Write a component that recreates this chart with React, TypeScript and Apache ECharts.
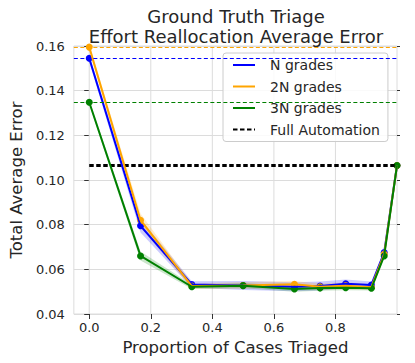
import React, { useEffect, useRef } from "react";
import * as echarts from "echarts";

const proportions = [0, 0.1667, 0.3333, 0.5, 0.6667, 0.75, 0.8333, 0.9167, 0.9583, 1.0];
const nGrades = [0.1545, 0.0795, 0.0532, 0.0528, 0.0522, 0.0525, 0.0535, 0.053, 0.0675, 0.1065];
const twoNGrades = [0.1595, 0.082, 0.0525, 0.0528, 0.0533, 0.0522, 0.0527, 0.052, 0.0668, 0.1065];
const threeNGrades = [0.1348, 0.066, 0.0522, 0.0527, 0.0512, 0.0516, 0.0518, 0.0515, 0.066, 0.1065];
const nErr = [0.0015, 0.003, 0.0015, 0.002, 0.002, 0.002, 0.002, 0.0015, 0.001, 0];
const twoNErr = [0.0012, 0.003, 0.0012, 0.0015, 0.0015, 0.0015, 0.0015, 0.0012, 0.001, 0];
const threeNErr = [0.001, 0.002, 0.001, 0.0012, 0.0012, 0.0012, 0.0012, 0.001, 0.001, 0];
const fullAutomationX = [0, 1.0];
const fullAutomation = 0.1065;
const xTicks = [0, 0.2, 0.4, 0.6, 0.8];
const seriesNames = ["N grades", "2N grades", "3N grades", "Full Automation"];

const FONT = "DejaVu Sans";
const TEXT = "#262626";
const GRID = "#dcdcdc";

function bandSeries(values: number[], errs: number[], color: string) {
  return {
    type: "custom",
    name: "band-" + color,
    silent: true,
    data: proportions.map((x, i) => [x, values[i] - errs[i], values[i] + errs[i]]),
    encode: { x: 0, y: [1, 2] },
    renderItem: (params: any, api: any) => {
      if (params.dataIndex !== 0) return { type: "group", children: [] };
      const upper = proportions.map((x, i) => api.coord([x, values[i] + errs[i]]));
      const lower = proportions.map((x, i) => api.coord([x, values[i] - errs[i]])).reverse();
      return {
        type: "polygon",
        shape: { points: upper.concat(lower) },
        style: { fill: color, opacity: 0.2 },
      };
    },
  };
}

function gridSeries() {
  return {
    type: "custom",
    name: "vgrid",
    silent: true,
    data: xTicks.map((x) => [x, 0.04, 0.16]),
    encode: { x: 0, y: [1, 2] },
    renderItem: (params: any, api: any) => {
      const p0 = api.coord([api.value(0), api.value(1)]);
      const p1 = api.coord([api.value(0), api.value(2)]);
      return {
        type: "line",
        shape: { x1: p0[0], y1: p0[1], x2: p1[0], y2: p1[1] },
        style: { stroke: GRID, lineWidth: 1 },
      };
    },
  };
}

function lineSeries(name: string, values: number[], color: string) {
  return [
    {
      type: "line",
      name,
      data: proportions.map((x, i) => [x, values[i]]),
      symbol: "none",
      lineStyle: { color, width: 2 },
      itemStyle: { color },
      markLine: {
        silent: true,
        symbol: "none",
        precision: 5,
        label: { show: false },
        lineStyle: { color, type: [4, 2.5], width: 1.2 },
        data: [{ yAxis: values[0] }],
      },
    },
    {
      type: "scatter",
      name: name + " points",
      data: proportions.map((x, i) => [x, values[i]]),
      symbol: "circle",
      symbolSize: 7,
      itemStyle: { color, opacity: 1 },
    },
  ];
}

export default function App() {
  const ref = useRef<HTMLDivElement>(null);
  useEffect(() => {
    if (!ref.current) return;
    const chart = echarts.init(ref.current, undefined, { renderer: "svg" });
    chart.setOption({
      animation: false,
      textStyle: { fontFamily: FONT },
      title: {
        text: "Ground Truth Triage\nEffort Reallocation Average Error",
        left: 231,
        textAlign: "center",
        top: 1,
        textStyle: { fontFamily: FONT, fontSize: 18, fontWeight: "normal", color: TEXT, lineHeight: 20 },
      },
      legend: {
        data: seriesNames,
        orient: "vertical",
        left: 223,
        top: 53,
        itemWidth: 22,
        itemHeight: 14,
        itemGap: 7.5,
        padding: [5, 8, 5, 9],
        borderColor: "#cccccc",
        borderWidth: 1,
        borderRadius: 3,
        backgroundColor: "rgba(255,255,255,0.85)",
        itemStyle: { opacity: 0 },
        textStyle: { fontFamily: FONT, fontSize: 14, color: TEXT, padding: [0, 0, 0, 10] },
      },
      grid: { left: 66, right: 18, top: 46, bottom: 49, show: true, borderColor: GRID, borderWidth: 1 },
      xAxis: {
        type: "value",
        min: -0.05,
        max: 1.0,
        name: "Proportion of Cases Triaged",
        nameLocation: "middle",
        nameGap: 21,
        nameTextStyle: { fontFamily: FONT, fontSize: 16.5, color: TEXT },
        axisLine: { show: false },
        splitLine: { show: false },
        axisTick: { show: true, customValues: xTicks, length: 5, lineStyle: { color: "#333" } },
        axisLabel: {
          customValues: xTicks,
          formatter: (v: number) => v.toFixed(1),
          fontFamily: FONT,
          fontSize: 13,
          color: TEXT,
          margin: 7,
        },
      },
      yAxis: [
        {
          type: "value",
          min: 0.04,
          max: 0.16,
          interval: 0.02,
          name: "Total Average Error",
          nameLocation: "middle",
          nameGap: 40,
          nameTextStyle: { fontFamily: FONT, fontSize: 16.5, color: TEXT },
          axisLine: { show: false },
          axisTick: { show: true, length: 5, lineStyle: { color: "#333" } },
          splitLine: { show: true, lineStyle: { color: GRID, width: 1 } },
          axisLabel: {
            formatter: (v: number) => v.toFixed(2),
            fontFamily: FONT,
            fontSize: 13,
            color: TEXT,
            margin: 9,
          },
        },
        {
          type: "value",
          position: "right",
          min: 0.04,
          max: 0.16,
          interval: 0.02,
          axisLine: { show: false },
          axisTick: { show: true, length: 3, lineStyle: { color: "#333" } },
          axisLabel: { show: false },
          splitLine: { show: false },
        },
      ],
      series: [
        gridSeries(),
        {
          type: "line",
          name: "Full Automation",
          data: fullAutomationX.map((x) => [x, fullAutomation]),
          symbol: "none",
          lineStyle: { color: "#000000", width: 3, type: [4.5, 2.5] },
          itemStyle: { color: "#000000" },
        },
        bandSeries(nGrades, nErr, "#0000ff"),
        bandSeries(twoNGrades, twoNErr, "#ffa500"),
        bandSeries(threeNGrades, threeNErr, "#008000"),
        ...lineSeries("N grades", nGrades, "#0000ff"),
        ...lineSeries("2N grades", twoNGrades, "#ffa500"),
        ...lineSeries("3N grades", threeNGrades, "#008000"),
      ],
    });
    return () => chart.dispose();
  }, []);
  return <div ref={ref} style={{ width: 415, height: 363, position: "absolute", left: 0, top: 0 }} />;
}
